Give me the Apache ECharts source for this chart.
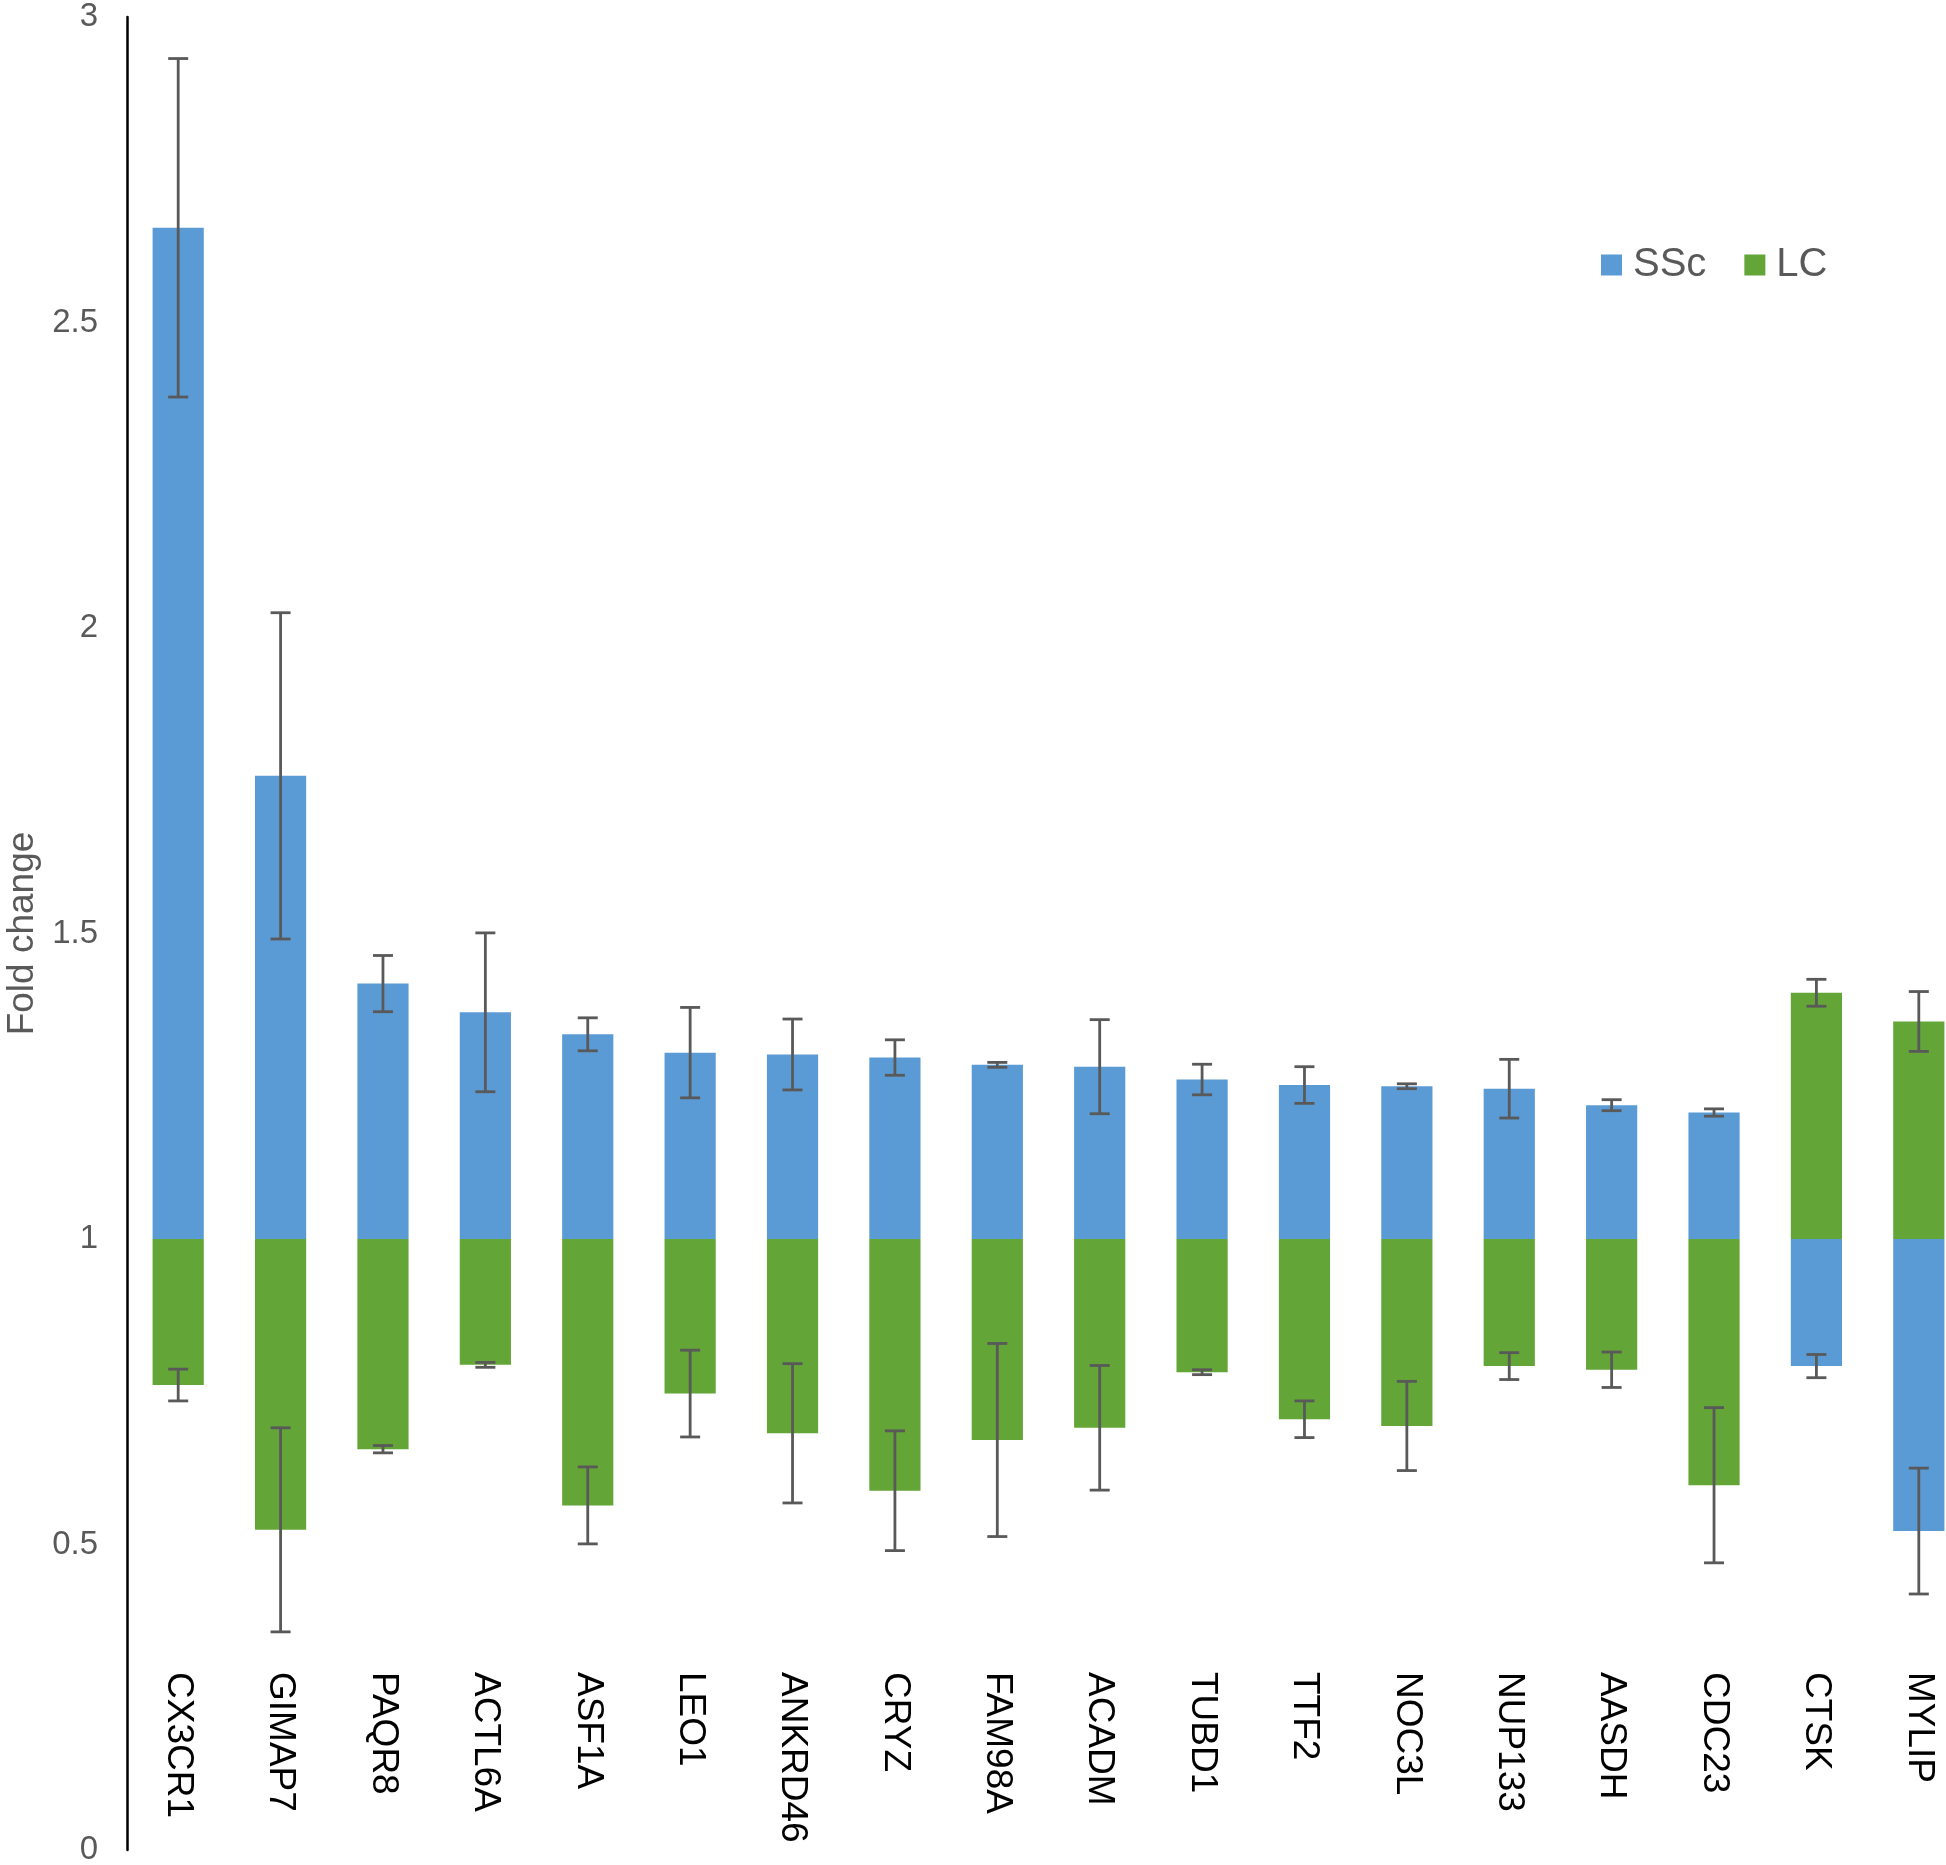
<!DOCTYPE html>
<html>
<head>
<meta charset="utf-8">
<script src="https://cdn.jsdelivr.net/npm/echarts@6/dist/echarts.min.js"></script>
<style>
html,body{margin:0;padding:0;background:#fff;}
#chart{width:1946px;height:1865px;}
</style>
</head>
<body>
<div id="chart"></div>
<script>
const categories = ['CX3CR1','GIMAP7','PAQR8','ACTL6A','ASF1A','LEO1','ANKRD46','CRYZ','FAM98A','ACADM','TUBD1','TTF2','NOC3L','NUP133','AASDH','CDC23','CTSK','MYLIP'];
const sscValues = [2.655, 1.758, 1.418, 1.371, 1.335, 1.305, 1.302, 1.297, 1.285, 1.282, 1.261, 1.252, 1.250, 1.246, 1.219, 1.207, 0.792, 0.522];
const sscErrors = [0.277, 0.267, 0.046, 0.130, 0.027, 0.074, 0.058, 0.029, 0.004, 0.077, 0.025, 0.030, 0.004, 0.048, 0.009, 0.006, 0.019, 0.103];
const lcValues  = [0.761, 0.524, 0.656, 0.794, 0.564, 0.747, 0.682, 0.588, 0.671, 0.691, 0.782, 0.705, 0.694, 0.792, 0.786, 0.597, 1.403, 1.356];
const lcErrors  = [0.026, 0.167, 0.006, 0.004, 0.063, 0.071, 0.114, 0.098, 0.158, 0.102, 0.004, 0.030, 0.073, 0.022, 0.029, 0.127, 0.022, 0.049];
const baseline = 1;
const yTicks = {min: 0, max: 3, interval: 0.5};

const BLUE = '#5B9BD5';
const GREEN = '#63A537';
const ERR = '#595959';
const FONT = '"Liberation Sans", Arial, sans-serif';

function barRender(params, api) {
  const i = api.value(0);
  const v = api.value(1);
  const p0 = api.coord([i, baseline]);
  const p1 = api.coord([i, v]);
  const w = api.size([1, 0])[0] * 0.5;
  const top = Math.min(p0[1], p1[1]);
  const h = Math.abs(p0[1] - p1[1]);
  return {
    type: 'rect',
    shape: {x: p0[0] - w / 2, y: top, width: w, height: h},
    style: {fill: api.visual('color')}
  };
}

function errRender(params, api) {
  const i = api.value(0);
  const v = api.value(1);
  const e = api.value(2);
  const hi = api.coord([i, v + e]);
  const lo = api.coord([i, v - e]);
  const cap = 10;
  const st = {stroke: ERR, lineWidth: 2.8};
  return {
    type: 'group',
    children: [
      {type: 'line', shape: {x1: hi[0], y1: hi[1], x2: lo[0], y2: lo[1]}, style: st},
      {type: 'line', shape: {x1: hi[0] - cap, y1: hi[1], x2: hi[0] + cap, y2: hi[1]}, style: st},
      {type: 'line', shape: {x1: lo[0] - cap, y1: lo[1], x2: lo[0] + cap, y2: lo[1]}, style: st}
    ]
  };
}

const sscData = categories.map((c, i) => [i, sscValues[i]]);
const lcData = categories.map((c, i) => [i, lcValues[i]]);
const sscErrData = categories.map((c, i) => [i, sscValues[i], sscErrors[i]]);
const lcErrData = categories.map((c, i) => [i, lcValues[i], lcErrors[i]]);

const chart = echarts.init(document.getElementById('chart'), null, {renderer: 'canvas'});
chart.setOption({
  animation: false,
  backgroundColor: '#fff',
  grid: {left: 127, top: 17, width: 1843, height: 1833, containLabel: false, outerBoundsMode: 'none'},
  legend: {
    left: 1596, top: 240,
    itemWidth: 21, itemHeight: 21, itemGap: 38,
    textStyle: {color: '#595959', fontSize: 40, fontFamily: FONT, padding: [0, 0, 0, 6]},
    data: [
      {name: 'SSc', icon: 'rect', itemStyle: {color: BLUE}},
      {name: 'LC', icon: 'rect', itemStyle: {color: GREEN}}
    ]
  },
  xAxis: {
    type: 'category',
    data: categories,
    position: 'bottom',
    offset: -178,
    axisLine: {show: false},
    axisTick: {show: false},
    splitLine: {show: false},
    axisLabel: {
      interval: 0, rotate: -90, margin: 0,
      fontSize: 37, color: '#000', fontFamily: FONT
    }
  },
  yAxis: {
    type: 'value',
    min: yTicks.min, max: yTicks.max, interval: yTicks.interval,
    name: 'Fold change',
    nameLocation: 'middle',
    nameGap: 85,
    nameTextStyle: {fontSize: 37, color: '#595959', fontFamily: FONT},
    axisLine: {show: true, lineStyle: {color: '#000', width: 2.5}},
    axisTick: {show: false},
    splitLine: {show: false},
    axisLabel: {fontSize: 33, color: '#595959', fontFamily: FONT, margin: 29}
  },
  series: [
    {name: 'SSc', type: 'custom', renderItem: barRender, data: sscData, itemStyle: {color: BLUE}, z: 2},
    {name: 'LC', type: 'custom', renderItem: barRender, data: lcData, itemStyle: {color: GREEN}, z: 2},
    {name: 'SSc err', type: 'custom', renderItem: errRender, data: sscErrData, z: 3},
    {name: 'LC err', type: 'custom', renderItem: errRender, data: lcErrData, z: 3}
  ]
});
</script>
</body>
</html>
